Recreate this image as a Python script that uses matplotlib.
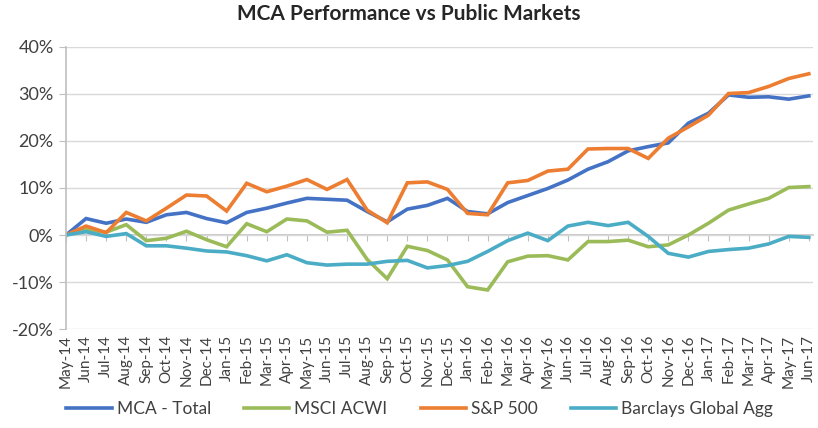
import matplotlib
matplotlib.use("Agg")
import matplotlib.pyplot as plt
from matplotlib.ticker import FuncFormatter

plt.rcParams['font.family'] = ['Lato', 'DejaVu Sans']

months = ['May-14', 'Jun-14', 'Jul-14', 'Aug-14', 'Sep-14', 'Oct-14', 'Nov-14', 'Dec-14',
          'Jan-15', 'Feb-15', 'Mar-15', 'Apr-15', 'May-15', 'Jun-15', 'Jul-15', 'Aug-15',
          'Sep-15', 'Oct-15', 'Nov-15', 'Dec-15', 'Jan-16', 'Feb-16', 'Mar-16', 'Apr-16',
          'May-16', 'Jun-16', 'Jul-16', 'Aug-16', 'Sep-16', 'Oct-16', 'Nov-16', 'Dec-16',
          'Jan-17', 'Feb-17', 'Mar-17', 'Apr-17', 'May-17', 'Jun-17']

# cumulative returns, %
mca_total = [0.0, 3.5, 2.5, 3.4, 2.7, 4.3, 4.8, 3.5, 2.6, 4.8, 5.7, 6.8, 7.8, 7.6, 7.4, 5.0,
             2.8, 5.5, 6.3, 7.8, 5.0, 4.5, 6.9, 8.4, 9.9, 11.7, 14.0, 15.6, 17.9, 18.8, 19.6,
             23.8, 25.9, 29.8, 29.3, 29.4, 28.9, 29.6]
msci_acwi = [0.0, 1.1, 0.6, 2.2, -1.2, -0.7, 0.8, -1.0, -2.5, 2.4, 0.7, 3.4, 3.0, 0.6, 1.0, -5.2,
             -9.3, -2.4, -3.3, -5.3, -11.0, -11.7, -5.7, -4.5, -4.4, -5.3, -1.4, -1.4, -1.1,
             -2.5, -2.1, 0.0, 2.5, 5.3, 6.6, 7.8, 10.1, 10.3]
sp500 = [0.0, 1.9, 0.5, 4.8, 3.0, 5.7, 8.5, 8.3, 5.1, 11.0, 9.2, 10.4, 11.8, 9.7, 11.8, 5.3,
         2.6, 11.1, 11.3, 9.7, 4.6, 4.3, 11.1, 11.6, 13.6, 14.0, 18.3, 18.4, 18.4, 16.3, 20.6,
         23.0, 25.5, 30.1, 30.3, 31.6, 33.3, 34.3]
barclays = [0.0, 0.7, -0.3, 0.3, -2.3, -2.3, -2.8, -3.4, -3.6, -4.4, -5.5, -4.2, -5.9, -6.4,
            -6.2, -6.2, -5.6, -5.4, -7.0, -6.5, -5.6, -3.5, -1.2, 0.4, -1.2, 1.9, 2.7, 2.0, 2.7,
            -0.3, -3.9, -4.7, -3.5, -3.1, -2.8, -1.9, -0.3, -0.5]

series = [
    ('MCA - Total', mca_total, '#4472C4'),
    ('MSCI ACWI', msci_acwi, '#9BBB59'),
    ('S&P 500', sp500, '#ED7D31'),
    ('Barclays Global Agg', barclays, '#4BACC6'),
]

fig = plt.figure(figsize=(8.18, 4.28), dpi=100)
ax = fig.add_axes([0.0807, 0.2313, 0.913, 0.6589])

x = list(range(len(months)))
for name, vals, col in series:
    ax.plot(x, vals, color=col, linewidth=2.6, label=name, solid_joinstyle='miter')

ax.set_xlim(0, len(months) - 1 + 0.2)
ax.set_ylim(-20, 40)
ax.set_yticks([-20, -10, 0, 10, 20, 30, 40])
ax.yaxis.set_major_formatter(FuncFormatter(lambda v, p: f'{v:.0f}%'))
ax.grid(axis='y', color='#D9D9D9', linewidth=1)
ax.set_axisbelow(True)

for s in ['top', 'right', 'bottom']:
    ax.spines[s].set_visible(False)
ax.spines['left'].set_color('#BFBFBF')
ax.spines['left'].set_linewidth(1.2)
ax.tick_params(axis='y', colors='#BFBFBF', length=5, labelsize=13, labelcolor='#404040', pad=4)

ax.set_xticks(x)
ax.set_xticklabels(months, rotation=90, fontsize=11, color='#404040')
ax.tick_params(axis='x', length=0, pad=4)

# horizontal axis crossing at 0%
zero = ax.secondary_xaxis(1 / 3)
zero.set_xticks(x)
zero.set_xticklabels([])
zero.tick_params(axis='x', direction='out', length=4, colors='#BFBFBF')
zero.spines['bottom'].set_color('#BFBFBF')
zero.spines['bottom'].set_linewidth(1.2)

fig.suptitle('MCA Performance vs Public Markets', fontsize=15, fontweight='bold',
             color='#262626', y=0.99)
fig.legend(loc='center', bbox_to_anchor=(0.513, 0.045), ncol=4, frameon=False,
           fontsize=12.5, handlelength=2.6, columnspacing=1.9, handletextpad=0.3,
           labelcolor='#404040')

fig.savefig('out.png', dpi=100)
